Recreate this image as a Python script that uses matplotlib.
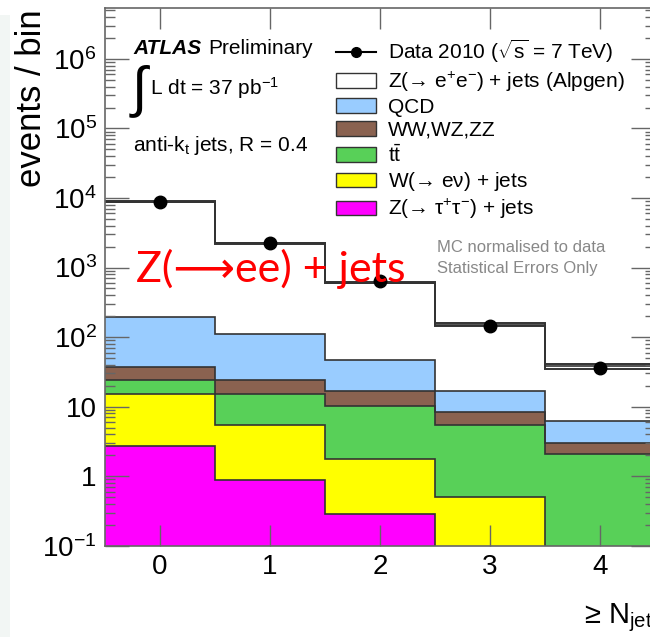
import numpy as np
import matplotlib
matplotlib.use("Agg")
import matplotlib.pyplot as plt
from matplotlib.patches import Patch, Rectangle
from matplotlib.lines import Line2D
from matplotlib.ticker import FixedLocator, FixedFormatter, NullLocator

plt.rcParams['font.family'] = ['Liberation Sans', 'DejaVu Sans']
plt.rcParams['mathtext.fontset'] = 'custom'
plt.rcParams['mathtext.rm'] = 'Liberation Sans'
plt.rcParams['mathtext.it'] = 'Liberation Sans:italic'
plt.rcParams['mathtext.bf'] = 'Liberation Sans:bold'
plt.rcParams['mathtext.default'] = 'regular'

# ---- data ----
n_jets = [0, 1, 2, 3, 4]
data_counts = [8770, 2220, 641, 145, 36]
ztautau = [2.7, 0.87, 0.28, 0.04, 0.01]
wenu = [12.4, 4.6, 1.47, 0.46, 0.04]
ttbar = [9.3, 9.6, 8.35, 4.86, 2.01]
diboson = [13.1, 9.3, 6.4, 2.94, 0.97]
qcd = [159.5, 85.6, 30.8, 8.7, 3.27]
zee = [8703, 2110, 558, 134, 31.7]
mc_err = [30, 15, 6, 7.5, 3.0]

ytick_vals = [1e-1, 1, 10, 1e2, 1e3, 1e4, 1e5, 1e6]
ytick_labels = [r'$10^{-1}$', '1', '10', r'$10^{2}$', r'$10^{3}$',
                r'$10^{4}$', r'$10^{5}$', r'$10^{6}$']

ARROW = '\u2192'
components = [
    (ztautau, '#ff00ff', 'Z(' + ARROW + r' $\tau^{+}\tau^{-}$) + jets'),
    (wenu, '#ffff00', 'W(' + ARROW + r' e$\nu$) + jets'),
    (ttbar, '#58d058', r't$\bar{t}$'),
    (diboson, '#8a6250', 'WW,WZ,ZZ'),
    (qcd, '#99ccff', 'QCD'),
    (zee, '#ffffff', 'Z(' + ARROW + r' e$^{+}$e$^{-}$) + jets (Alpgen)'),
]

W, H = 650, 637
fig = plt.figure(figsize=(W / 100, H / 100), dpi=100)
fig.patches.append(Rectangle((0, 0), 10 / W, 1 - 15 / H, transform=fig.transFigure,
                             facecolor='#f2f6f4', edgecolor='none', zorder=0))

ax = fig.add_axes([105 / W, (H - 545.7) / H, 550 / W, (545.7 - 8) / H])
ax.set_yscale('log')
ax.set_xlim(-0.5, 4.5)
ax.set_ylim(0.1, 5.4e6)

x = np.array(n_jets, dtype=float)
edges = np.append(x - 0.5, x[-1] + 0.5)
base = np.full(len(x), 1e-3)
for vals, col, lab in components:
    top = base + np.array(vals)
    ax.stairs(top, edges, baseline=base, fill=True, facecolor=col,
              edgecolor='none', zorder=1)
    ax.stairs(top, edges, baseline=None, color='#333333', lw=1.2, zorder=1.5)
    base = top
total = base
err = np.array(mc_err)
ax.stairs(total + err, edges, baseline=None, color='#333333', lw=1.4, zorder=2)
ax.stairs(total - err, edges, baseline=None, color='#333333', lw=1.4, zorder=2)

ax.plot(x, data_counts, 'o', color='black', markersize=9, zorder=5)

# ticks
ax.xaxis.set_major_locator(FixedLocator(n_jets))
ax.xaxis.set_minor_locator(NullLocator())
ax.yaxis.set_major_locator(FixedLocator(ytick_vals))
ax.yaxis.set_major_formatter(FixedFormatter(ytick_labels))
minor = [m * 10.0 ** e for e in range(-1, 7) for m in range(2, 10)]
ax.yaxis.set_minor_locator(FixedLocator(minor))
ax.tick_params(axis='both', which='both', direction='in', top=True, right=True,
               color='#666666', width=1)
ax.tick_params(axis='y', which='major', length=17, labelsize=20, pad=6)
ax.tick_params(axis='y', which='minor', length=7)
ax.tick_params(axis='x', which='major', length=15, labelsize=20, pad=6)
for s in ax.spines.values():
    s.set_color('#666666')
    s.set_linewidth(1.2)

fig.text(32 / W, 1 - 9 / H, 'events / bin', rotation=90, ha='center', va='top',
         fontsize=25)
fig.text(584 / W, 1 - 618 / H, '\u2265 N$_{jet}$', ha='left', va='center',
         fontsize=21)

# annotations
fig.text(133 / W, 1 - 49 / H, 'ATLAS', fontsize=15, fontweight='bold',
         style='italic', va='center', ha='left')
fig.text(208 / W, 1 - 49 / H, 'Preliminary', fontsize=15, va='center', ha='left')
fig.text(129 / W, 1 - 92 / H, r'$\int$', fontsize=40, va='center', ha='left')
fig.text(150 / W, 1 - 88 / H, r'L dt = 37 pb$^{-1}$', fontsize=15, va='center',
         ha='left')
fig.text(133 / W, 1 - 145 / H, r'anti-k$_{t}$ jets, R = 0.4', fontsize=15,
         va='center', ha='left')
fig.text(437 / W, 1 - 247 / H, 'MC normalised to data', fontsize=12,
         color='#888888', va='center', ha='left')
fig.text(437 / W, 1 - 268 / H, 'Statistical Errors Only', fontsize=12,
         color='#888888', va='center', ha='left')

# legend
handles = [Line2D([], [], color='black', marker='o', markersize=7, lw=1.5)]
labels = [r'Data 2010 ($\sqrt{s}$ = 7 TeV)']
for vals, col, lab in reversed(components):
    handles.append(Patch(facecolor=col, edgecolor='#333333', lw=1))
    labels.append(lab)
leg = fig.legend(handles, labels, loc='upper left',
                 bbox_to_anchor=(336 / W, 1 - 38 / H), frameon=False,
                 fontsize=15, handlelength=1.9, handleheight=0.7,
                 handletextpad=0.6, labelspacing=0.2, borderaxespad=0,
                 borderpad=0)

# overlay text
fig.text(136 / W, 1 - 282 / H, 'Z(\u27F6ee) + jets', color='#ff0000',
         fontsize=31, family=['Lato', 'DejaVu Sans'], ha='left', va='baseline')

fig.savefig('out.png', dpi=100)
